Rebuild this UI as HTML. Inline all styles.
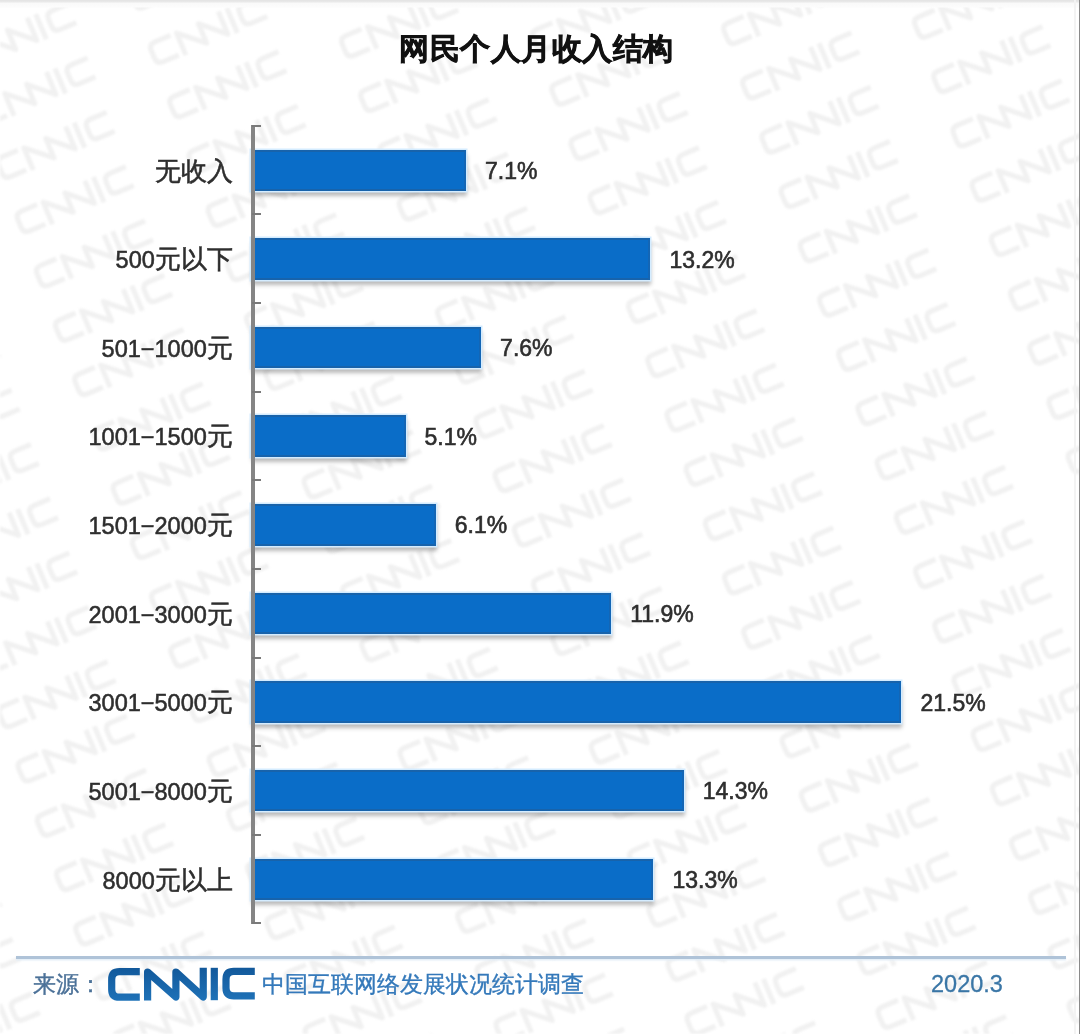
<!DOCTYPE html>
<html><head><meta charset="utf-8">
<style>
html,body{margin:0;padding:0;}
body{width:1080px;height:1034px;position:relative;overflow:hidden;background:#fff;font-family:"Liberation Sans",sans-serif;}
.topline{position:absolute;left:0;top:0;width:1080px;height:8px;background:linear-gradient(#e4e4e4 0px,#e6e6e6 1.2px,#fafafa 3.5px,#fcfcfc 7px,rgba(255,255,255,0) 8px);}
.title{position:absolute;left:0;width:1073px;top:29px;text-align:center;font-size:30px;letter-spacing:0.45px;font-weight:bold;color:#111;line-height:40px;-webkit-text-stroke:0.7px #111;}
.axis{position:absolute;left:250.8px;top:124.5px;width:4.4px;height:799px;background:#858585;}
.tick{position:absolute;left:252px;width:9px;height:2px;background:#7a7a7a;}
.bar{position:absolute;left:251.3px;height:41.5px;box-sizing:border-box;background:#0a6dc8;border-top:2px solid #1863ab;border-bottom:2px solid #1863ab;border-right:2px solid #1466b5;box-shadow:0 0 0 1.5px #d4ecff, 1px 5px 4px rgba(60,60,60,0.35);}
.val{position:absolute;height:41.5px;line-height:41.5px;padding-top:1.3px;-webkit-text-stroke:0.6px #2e2e2e;font-size:23px;color:#2e2e2e;white-space:nowrap;}
.lab{position:absolute;right:847.2px;height:41.5px;line-height:41.5px;padding-top:1px;-webkit-text-stroke:0.55px #2e2e2e;font-size:23.5px;color:#2e2e2e;text-align:right;white-space:nowrap;}
.c{font-size:25.5px;}
.fline{position:absolute;left:15.5px;top:955.8px;width:1050px;height:3.4px;background:#afc3d8;box-shadow:0 1.5px 1.5px #e3eef8;}
.redge{position:absolute;left:1078.5px;top:0;width:1.5px;height:1034px;background:#8a8a8a;}
.redge2{position:absolute;left:1074px;top:0;width:2px;height:1034px;background:#f3f3f3;}
.src{position:absolute;left:33px;top:968px;font-size:23px;line-height:32px;color:#4b7198;-webkit-text-stroke:0.4px #4b7198;}
.org{position:absolute;left:262px;top:968px;font-size:23px;line-height:32px;color:#3479ba;-webkit-text-stroke:0.35px #3479ba;}
.date{position:absolute;left:931px;top:968px;font-size:23.5px;line-height:32px;color:#3a76a6;-webkit-text-stroke:0.3px #3a76a6;}
.logo{position:absolute;left:105px;top:964px;}
.wm{position:absolute;left:0;top:0;filter:blur(1.2px);}
#wrap{position:absolute;left:0;top:0;width:1080px;height:1034px;filter:blur(0.55px);}
</style></head><body><div id="wrap">
<svg class="wm" width="1080" height="1034"><defs><g id="wl" fill="none" stroke="#f1f1f1" stroke-width="6" stroke-linejoin="round"><path d="M-41.7 -12.6 H-62 Q-69.8 -12.6 -69.8 -4.8 V5.1 Q-69.8 12.9 -62 12.9 H-41.7"/><path d="M-33.9 16.3 V-12.3 L-5.6 12.7 V-12.3 L21.75 12.7 V-16.5"/><path d="M32.8 -16.5 V15.9"/><path d="M73.3 -12.9 H52.3 Q44.5 -12.9 44.5 -5.1 V3.8 Q44.5 11.6 52.3 11.6 H73.3"/></g></defs><use href="#wl" transform="translate(-78.2 864.8) rotate(-23) scale(0.84)"/><use href="#wl" transform="translate(-59.0 919.1) rotate(-23) scale(0.84)"/><use href="#wl" transform="translate(-39.8 973.4) rotate(-23) scale(0.84)"/><use href="#wl" transform="translate(-20.6 1027.7) rotate(-23) scale(0.84)"/><use href="#wl" transform="translate(-79.2 315.5) rotate(-23) scale(0.84)"/><use href="#wl" transform="translate(-60.0 369.8) rotate(-23) scale(0.84)"/><use href="#wl" transform="translate(-40.8 424.1) rotate(-23) scale(0.84)"/><use href="#wl" transform="translate(-21.6 478.4) rotate(-23) scale(0.84)"/><use href="#wl" transform="translate(-2.4 532.7) rotate(-23) scale(0.84)"/><use href="#wl" transform="translate(16.8 587.0) rotate(-23) scale(0.84)"/><use href="#wl" transform="translate(36.0 641.3) rotate(-23) scale(0.84)"/><use href="#wl" transform="translate(55.2 695.6) rotate(-23) scale(0.84)"/><use href="#wl" transform="translate(74.4 749.9) rotate(-23) scale(0.84)"/><use href="#wl" transform="translate(93.6 804.2) rotate(-23) scale(0.84)"/><use href="#wl" transform="translate(112.8 858.5) rotate(-23) scale(0.84)"/><use href="#wl" transform="translate(132.0 912.8) rotate(-23) scale(0.84)"/><use href="#wl" transform="translate(151.2 967.1) rotate(-23) scale(0.84)"/><use href="#wl" transform="translate(170.4 1021.4) rotate(-23) scale(0.84)"/><use href="#wl" transform="translate(189.6 1075.7) rotate(-23) scale(0.84)"/><use href="#wl" transform="translate(-3.4 -16.6) rotate(-23) scale(0.84)"/><use href="#wl" transform="translate(15.8 37.7) rotate(-23) scale(0.84)"/><use href="#wl" transform="translate(35.0 92.0) rotate(-23) scale(0.84)"/><use href="#wl" transform="translate(54.2 146.3) rotate(-23) scale(0.84)"/><use href="#wl" transform="translate(73.4 200.6) rotate(-23) scale(0.84)"/><use href="#wl" transform="translate(92.6 254.9) rotate(-23) scale(0.84)"/><use href="#wl" transform="translate(111.8 309.2) rotate(-23) scale(0.84)"/><use href="#wl" transform="translate(131.0 363.5) rotate(-23) scale(0.84)"/><use href="#wl" transform="translate(150.2 417.8) rotate(-23) scale(0.84)"/><use href="#wl" transform="translate(169.4 472.1) rotate(-23) scale(0.84)"/><use href="#wl" transform="translate(188.6 526.4) rotate(-23) scale(0.84)"/><use href="#wl" transform="translate(207.8 580.7) rotate(-23) scale(0.84)"/><use href="#wl" transform="translate(227.0 635.0) rotate(-23) scale(0.84)"/><use href="#wl" transform="translate(246.2 689.3) rotate(-23) scale(0.84)"/><use href="#wl" transform="translate(265.4 743.6) rotate(-23) scale(0.84)"/><use href="#wl" transform="translate(284.6 797.9) rotate(-23) scale(0.84)"/><use href="#wl" transform="translate(303.8 852.2) rotate(-23) scale(0.84)"/><use href="#wl" transform="translate(323.0 906.5) rotate(-23) scale(0.84)"/><use href="#wl" transform="translate(342.2 960.8) rotate(-23) scale(0.84)"/><use href="#wl" transform="translate(361.4 1015.1) rotate(-23) scale(0.84)"/><use href="#wl" transform="translate(380.6 1069.4) rotate(-23) scale(0.84)"/><use href="#wl" transform="translate(187.6 -22.9) rotate(-23) scale(0.84)"/><use href="#wl" transform="translate(206.8 31.4) rotate(-23) scale(0.84)"/><use href="#wl" transform="translate(226.0 85.7) rotate(-23) scale(0.84)"/><use href="#wl" transform="translate(245.2 140.0) rotate(-23) scale(0.84)"/><use href="#wl" transform="translate(264.4 194.3) rotate(-23) scale(0.84)"/><use href="#wl" transform="translate(283.6 248.6) rotate(-23) scale(0.84)"/><use href="#wl" transform="translate(302.8 302.9) rotate(-23) scale(0.84)"/><use href="#wl" transform="translate(322.0 357.2) rotate(-23) scale(0.84)"/><use href="#wl" transform="translate(341.2 411.5) rotate(-23) scale(0.84)"/><use href="#wl" transform="translate(360.4 465.8) rotate(-23) scale(0.84)"/><use href="#wl" transform="translate(379.6 520.1) rotate(-23) scale(0.84)"/><use href="#wl" transform="translate(398.8 574.4) rotate(-23) scale(0.84)"/><use href="#wl" transform="translate(418.0 628.7) rotate(-23) scale(0.84)"/><use href="#wl" transform="translate(437.2 683.0) rotate(-23) scale(0.84)"/><use href="#wl" transform="translate(456.4 737.3) rotate(-23) scale(0.84)"/><use href="#wl" transform="translate(475.6 791.6) rotate(-23) scale(0.84)"/><use href="#wl" transform="translate(494.8 845.9) rotate(-23) scale(0.84)"/><use href="#wl" transform="translate(514.0 900.2) rotate(-23) scale(0.84)"/><use href="#wl" transform="translate(533.2 954.5) rotate(-23) scale(0.84)"/><use href="#wl" transform="translate(552.4 1008.8) rotate(-23) scale(0.84)"/><use href="#wl" transform="translate(571.6 1063.1) rotate(-23) scale(0.84)"/><use href="#wl" transform="translate(378.6 -29.2) rotate(-23) scale(0.84)"/><use href="#wl" transform="translate(397.8 25.1) rotate(-23) scale(0.84)"/><use href="#wl" transform="translate(417.0 79.4) rotate(-23) scale(0.84)"/><use href="#wl" transform="translate(436.2 133.7) rotate(-23) scale(0.84)"/><use href="#wl" transform="translate(455.4 188.0) rotate(-23) scale(0.84)"/><use href="#wl" transform="translate(474.6 242.3) rotate(-23) scale(0.84)"/><use href="#wl" transform="translate(493.8 296.6) rotate(-23) scale(0.84)"/><use href="#wl" transform="translate(513.0 350.9) rotate(-23) scale(0.84)"/><use href="#wl" transform="translate(532.2 405.2) rotate(-23) scale(0.84)"/><use href="#wl" transform="translate(551.4 459.5) rotate(-23) scale(0.84)"/><use href="#wl" transform="translate(570.6 513.8) rotate(-23) scale(0.84)"/><use href="#wl" transform="translate(589.8 568.1) rotate(-23) scale(0.84)"/><use href="#wl" transform="translate(609.0 622.4) rotate(-23) scale(0.84)"/><use href="#wl" transform="translate(628.2 676.7) rotate(-23) scale(0.84)"/><use href="#wl" transform="translate(647.4 731.0) rotate(-23) scale(0.84)"/><use href="#wl" transform="translate(666.6 785.3) rotate(-23) scale(0.84)"/><use href="#wl" transform="translate(685.8 839.6) rotate(-23) scale(0.84)"/><use href="#wl" transform="translate(705.0 893.9) rotate(-23) scale(0.84)"/><use href="#wl" transform="translate(724.2 948.2) rotate(-23) scale(0.84)"/><use href="#wl" transform="translate(743.4 1002.5) rotate(-23) scale(0.84)"/><use href="#wl" transform="translate(762.6 1056.8) rotate(-23) scale(0.84)"/><use href="#wl" transform="translate(569.6 -35.5) rotate(-23) scale(0.84)"/><use href="#wl" transform="translate(588.8 18.8) rotate(-23) scale(0.84)"/><use href="#wl" transform="translate(608.0 73.1) rotate(-23) scale(0.84)"/><use href="#wl" transform="translate(627.2 127.4) rotate(-23) scale(0.84)"/><use href="#wl" transform="translate(646.4 181.7) rotate(-23) scale(0.84)"/><use href="#wl" transform="translate(665.6 236.0) rotate(-23) scale(0.84)"/><use href="#wl" transform="translate(684.8 290.3) rotate(-23) scale(0.84)"/><use href="#wl" transform="translate(704.0 344.6) rotate(-23) scale(0.84)"/><use href="#wl" transform="translate(723.2 398.9) rotate(-23) scale(0.84)"/><use href="#wl" transform="translate(742.4 453.2) rotate(-23) scale(0.84)"/><use href="#wl" transform="translate(761.6 507.5) rotate(-23) scale(0.84)"/><use href="#wl" transform="translate(780.8 561.8) rotate(-23) scale(0.84)"/><use href="#wl" transform="translate(800.0 616.1) rotate(-23) scale(0.84)"/><use href="#wl" transform="translate(819.2 670.4) rotate(-23) scale(0.84)"/><use href="#wl" transform="translate(838.4 724.7) rotate(-23) scale(0.84)"/><use href="#wl" transform="translate(857.6 779.0) rotate(-23) scale(0.84)"/><use href="#wl" transform="translate(876.8 833.3) rotate(-23) scale(0.84)"/><use href="#wl" transform="translate(896.0 887.6) rotate(-23) scale(0.84)"/><use href="#wl" transform="translate(915.2 941.9) rotate(-23) scale(0.84)"/><use href="#wl" transform="translate(934.4 996.2) rotate(-23) scale(0.84)"/><use href="#wl" transform="translate(953.6 1050.5) rotate(-23) scale(0.84)"/><use href="#wl" transform="translate(779.8 12.5) rotate(-23) scale(0.84)"/><use href="#wl" transform="translate(799.0 66.8) rotate(-23) scale(0.84)"/><use href="#wl" transform="translate(818.2 121.1) rotate(-23) scale(0.84)"/><use href="#wl" transform="translate(837.4 175.4) rotate(-23) scale(0.84)"/><use href="#wl" transform="translate(856.6 229.7) rotate(-23) scale(0.84)"/><use href="#wl" transform="translate(875.8 284.0) rotate(-23) scale(0.84)"/><use href="#wl" transform="translate(895.0 338.3) rotate(-23) scale(0.84)"/><use href="#wl" transform="translate(914.2 392.6) rotate(-23) scale(0.84)"/><use href="#wl" transform="translate(933.4 446.9) rotate(-23) scale(0.84)"/><use href="#wl" transform="translate(952.6 501.2) rotate(-23) scale(0.84)"/><use href="#wl" transform="translate(971.8 555.5) rotate(-23) scale(0.84)"/><use href="#wl" transform="translate(991.0 609.8) rotate(-23) scale(0.84)"/><use href="#wl" transform="translate(1010.2 664.1) rotate(-23) scale(0.84)"/><use href="#wl" transform="translate(1029.4 718.4) rotate(-23) scale(0.84)"/><use href="#wl" transform="translate(1048.6 772.7) rotate(-23) scale(0.84)"/><use href="#wl" transform="translate(1067.8 827.0) rotate(-23) scale(0.84)"/><use href="#wl" transform="translate(1087.0 881.3) rotate(-23) scale(0.84)"/><use href="#wl" transform="translate(1106.2 935.6) rotate(-23) scale(0.84)"/><use href="#wl" transform="translate(1125.4 989.9) rotate(-23) scale(0.84)"/><use href="#wl" transform="translate(1144.6 1044.2) rotate(-23) scale(0.84)"/><use href="#wl" transform="translate(970.8 6.2) rotate(-23) scale(0.84)"/><use href="#wl" transform="translate(990.0 60.5) rotate(-23) scale(0.84)"/><use href="#wl" transform="translate(1009.2 114.8) rotate(-23) scale(0.84)"/><use href="#wl" transform="translate(1028.4 169.1) rotate(-23) scale(0.84)"/><use href="#wl" transform="translate(1047.6 223.4) rotate(-23) scale(0.84)"/><use href="#wl" transform="translate(1066.8 277.7) rotate(-23) scale(0.84)"/><use href="#wl" transform="translate(1086.0 332.0) rotate(-23) scale(0.84)"/><use href="#wl" transform="translate(1105.2 386.3) rotate(-23) scale(0.84)"/><use href="#wl" transform="translate(1124.4 440.6) rotate(-23) scale(0.84)"/><use href="#wl" transform="translate(1143.6 494.9) rotate(-23) scale(0.84)"/></svg>
<div class="topline"></div>
<div class="redge2"></div><div class="redge"></div>
<div class="title">网民个人月收入结构</div>
<div class="bar" style="top:149.60px;width:214.70px"></div><div class="val" style="top:149.60px;left:485.00px">7.1%</div><div class="lab" style="top:149.60px"><span class="c">无收入</span></div><div class="bar" style="top:238.22px;width:399.17px"></div><div class="val" style="top:238.22px;left:669.47px">13.2%</div><div class="lab" style="top:238.22px">500<span class="c">元以下</span></div><div class="bar" style="top:326.84px;width:229.82px"></div><div class="val" style="top:326.84px;left:500.12px">7.6%</div><div class="lab" style="top:326.84px">501−1000<span class="c">元</span></div><div class="bar" style="top:415.46px;width:154.22px"></div><div class="val" style="top:415.46px;left:424.52px">5.1%</div><div class="lab" style="top:415.46px">1001−1500<span class="c">元</span></div><div class="bar" style="top:504.08px;width:184.46px"></div><div class="val" style="top:504.08px;left:454.76px">6.1%</div><div class="lab" style="top:504.08px">1501−2000<span class="c">元</span></div><div class="bar" style="top:592.70px;width:359.86px"></div><div class="val" style="top:592.70px;left:630.16px">11.9%</div><div class="lab" style="top:592.70px">2001−3000<span class="c">元</span></div><div class="bar" style="top:681.32px;width:650.16px"></div><div class="val" style="top:681.32px;left:920.46px">21.5%</div><div class="lab" style="top:681.32px">3001−5000<span class="c">元</span></div><div class="bar" style="top:769.94px;width:432.43px"></div><div class="val" style="top:769.94px;left:702.73px">14.3%</div><div class="lab" style="top:769.94px">5001−8000<span class="c">元</span></div><div class="bar" style="top:858.56px;width:402.19px"></div><div class="val" style="top:858.56px;left:672.49px">13.3%</div><div class="lab" style="top:858.56px">8000<span class="c">元以上</span></div>
<div class="axis"></div>
<div class="tick" style="top:124.80px"></div><div class="tick" style="top:213.42px"></div><div class="tick" style="top:302.04px"></div><div class="tick" style="top:390.66px"></div><div class="tick" style="top:479.28px"></div><div class="tick" style="top:567.90px"></div><div class="tick" style="top:656.52px"></div><div class="tick" style="top:745.14px"></div><div class="tick" style="top:833.76px"></div><div class="tick" style="top:922.38px"></div>
<div class="fline"></div>
<div class="src">来源：</div>
<svg class="logo" width="155" height="40" viewBox="105 964 155 40">
<defs><linearGradient id="lg" gradientUnits="userSpaceOnUse" x1="0" y1="968" x2="0" y2="1001"><stop offset="0" stop-color="#12599b"/><stop offset="1" stop-color="#1f72b8"/></linearGradient></defs>
<g fill="none" stroke="url(#lg)" stroke-width="7.2" stroke-linejoin="round" stroke-linecap="butt">
<path d="M139.8 971.7 H119.5 Q111.7 971.7 111.7 979.5 V989.4 Q111.7 997.2 119.5 997.2 H139.8"/>
<path d="M147.6 1000.6 V972 L175.9 997 V972 L203.25 997 V967.8"/>
<path d="M214.3 967.8 V1000.2"/>
<path d="M254.8 971.4 H233.8 Q226 971.4 226 979.2 V988.1 Q226 995.9 233.8 995.9 H254.8"/>
</g>
</svg>
<div class="org">中国互联网络发展状况统计调查</div>
<div class="date">2020.3</div>
</div></body></html>
